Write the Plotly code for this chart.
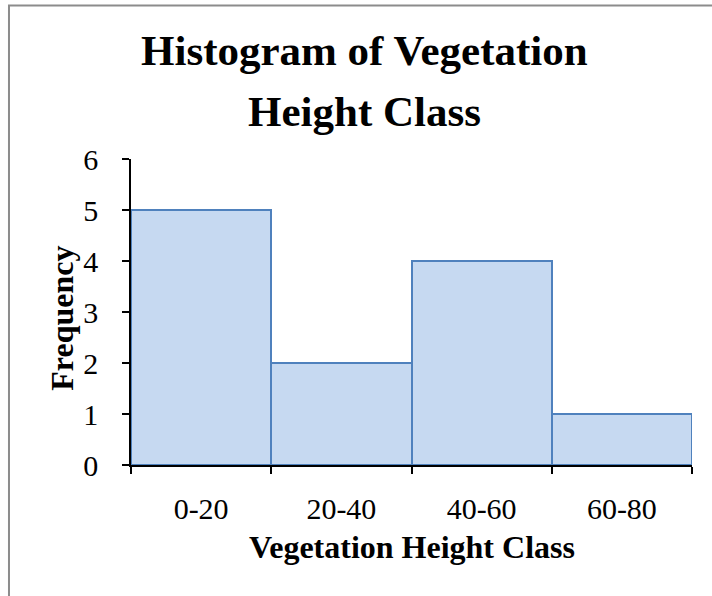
import plotly.graph_objects as go

# Histogram data: vegetation height classes and their counts
classes = ["0-20", "20-40", "40-60", "60-80"]
frequency = [5, 2, 4, 1]
y_ticks = [0, 1, 2, 3, 4, 5, 6]

SERIF = "Liberation Serif, Times New Roman, serif"

fig = go.Figure(
    go.Bar(
        x=classes,
        y=frequency,
        marker=dict(color="#C6D9F1", line=dict(color="#4F81BD", width=2)),
        hoverinfo="x+y",
    )
)

fig.update_layout(
    width=712,
    height=596,
    margin=dict(l=131, r=20, t=159, b=131),
    paper_bgcolor="white",
    plot_bgcolor="white",
    bargap=0,
    showlegend=False,
    font=dict(family=SERIF, color="black"),
)

fig.update_xaxes(
    range=[-0.5, 3.5],
    showline=True,
    linecolor="black",
    linewidth=1.5,
    ticks="outside",
    tickson="boundaries",
    ticklen=7,
    tickwidth=1.5,
    tickcolor="black",
    ticklabelstandoff=16,
    tickfont=dict(family=SERIF, size=30, color="black"),
    showgrid=False,
    zeroline=False,
)

fig.update_yaxes(
    range=[0, 6],
    tickvals=y_ticks,
    showline=True,
    linecolor="black",
    linewidth=1.5,
    ticks="outside",
    ticklen=7,
    tickwidth=1.5,
    tickcolor="black",
    ticklabelstandoff=18,
    tickfont=dict(family=SERIF, size=30, color="black"),
    showgrid=False,
    zeroline=False,
)

# Two-line chart title
title_lines = ["Histogram of Vegetation", "Height Class"]
for text, ypos in zip(title_lines, [1.356, 1.155]):
    fig.add_annotation(
        text=f"<b>{text}</b>",
        xref="paper", yref="paper",
        x=0.417, y=ypos,
        xanchor="center", yanchor="middle",
        showarrow=False,
        font=dict(family=SERIF, size=43, color="black"),
    )

# Axis titles
fig.add_annotation(
    text="<b>Vegetation Height Class</b>",
    xref="paper", yref="paper",
    x=0.5, y=-0.268,
    xanchor="center", yanchor="middle",
    showarrow=False,
    font=dict(family=SERIF, size=32, color="black"),
)
fig.add_annotation(
    text="<b>Frequency</b>",
    xref="paper", yref="paper",
    x=-0.122, y=0.48,
    xanchor="center", yanchor="middle",
    textangle=-90,
    showarrow=False,
    font=dict(family=SERIF, size=32, color="black"),
)

# Chart frame (top and left edges visible)
fig.add_shape(
    type="rect",
    xref="paper", yref="paper",
    x0=-0.2175, x1=1.2, y0=-0.6, y1=1.5016,
    line=dict(color="#8C8C8C", width=2),
    fillcolor="rgba(0,0,0,0)",
    layer="below",
)

fig.write_html("out.html")
